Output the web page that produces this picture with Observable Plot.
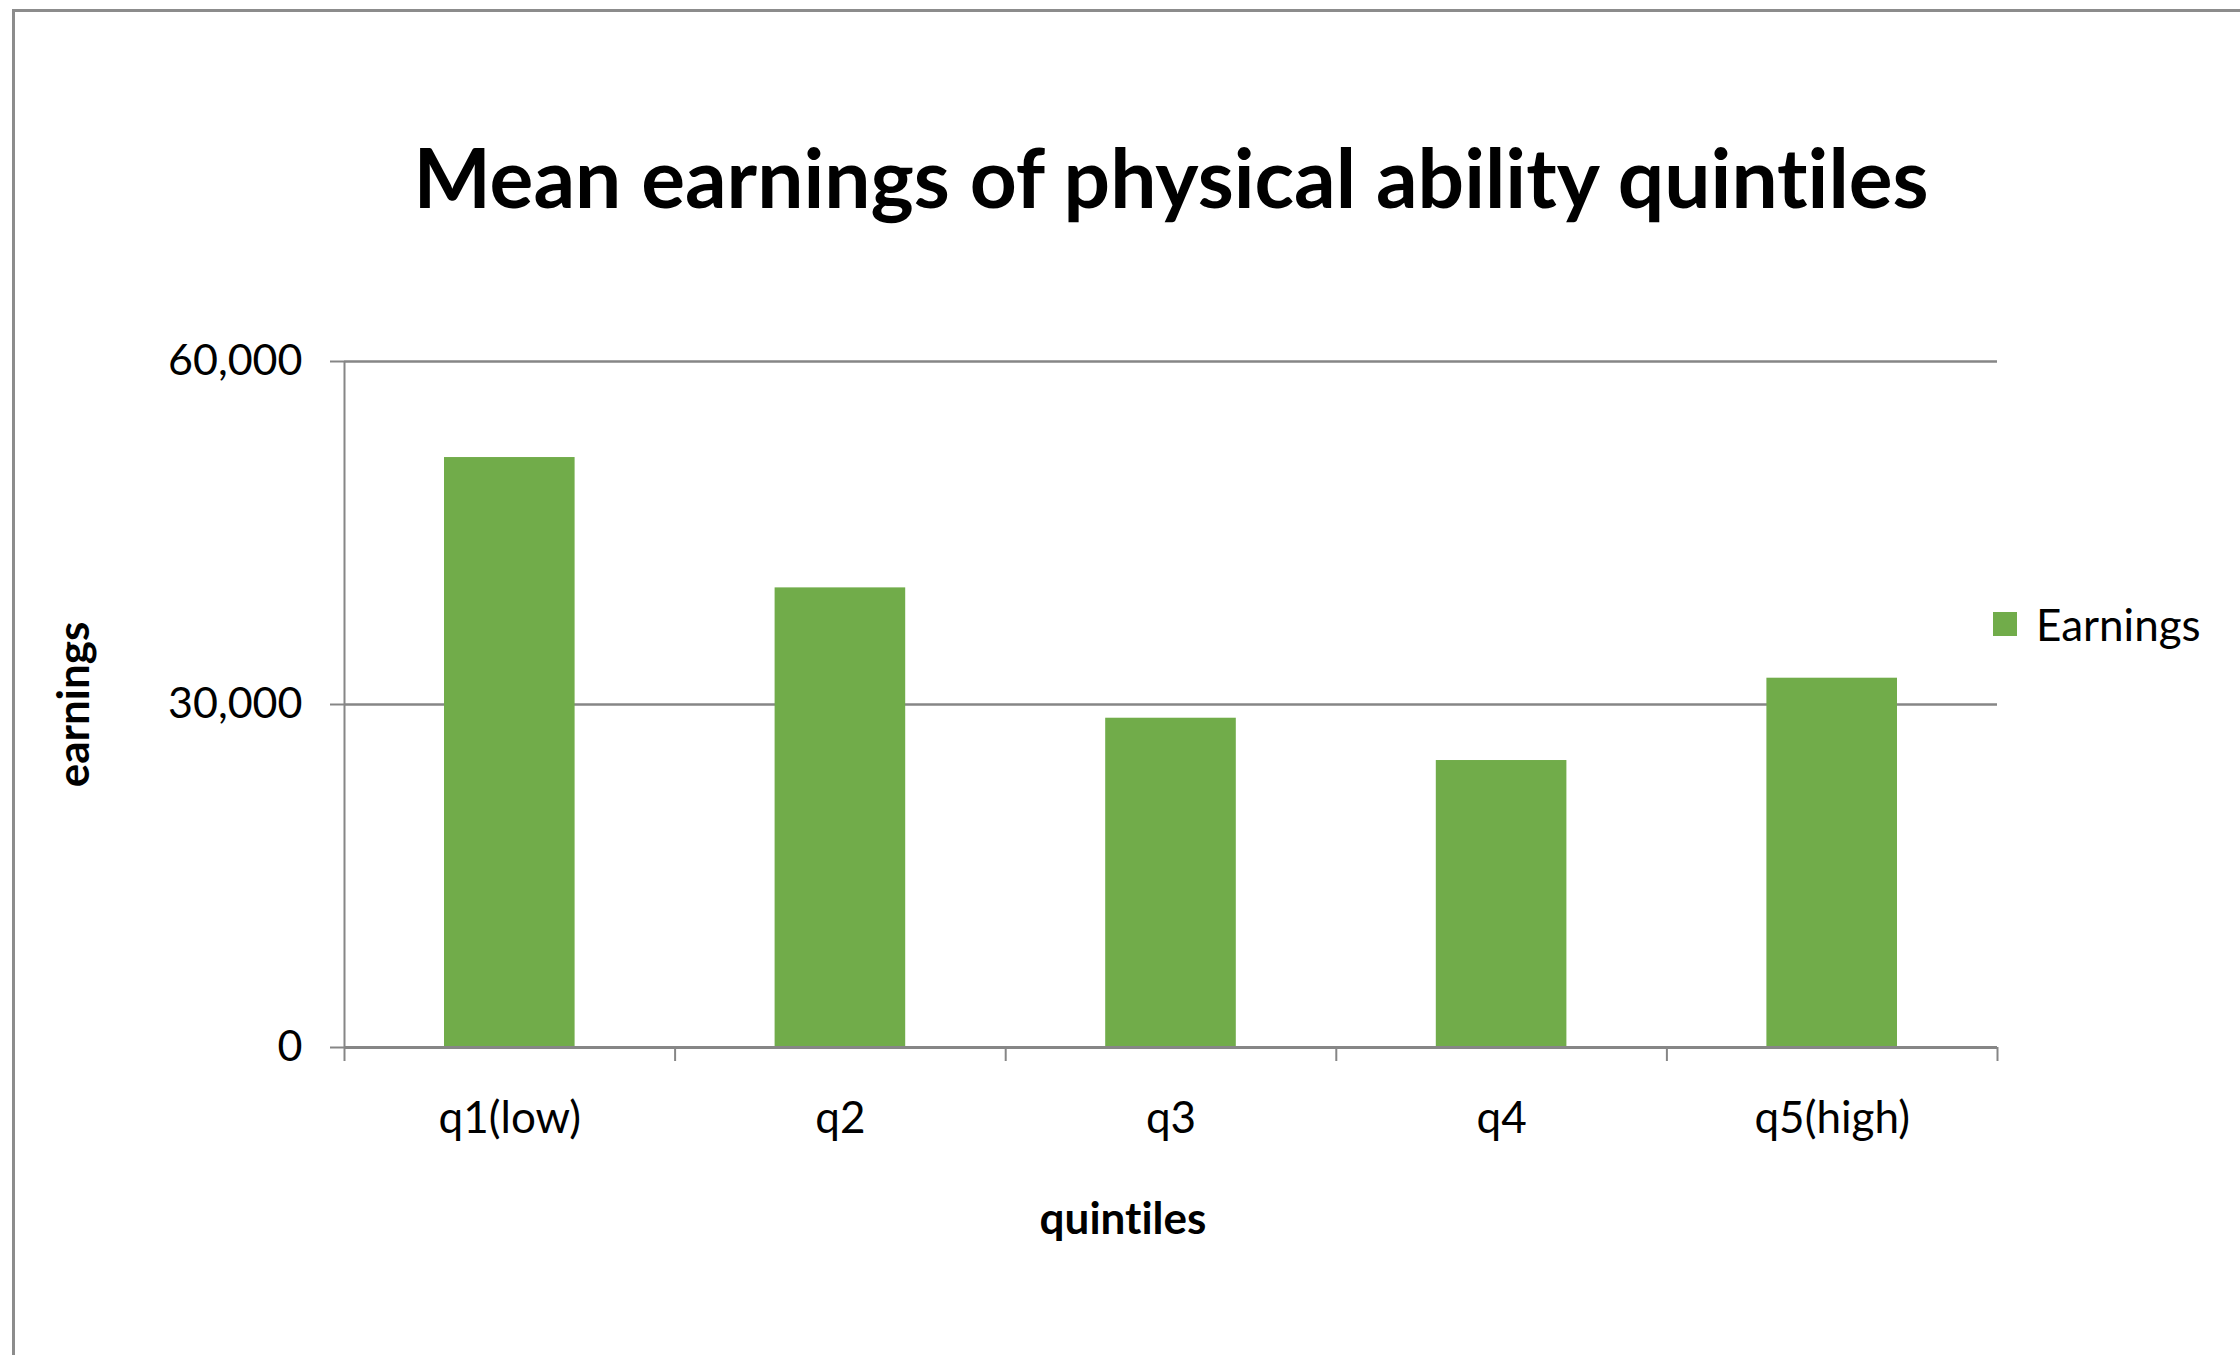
<!DOCTYPE html>
<html>
<head>
<meta charset="utf-8">
<script src="https://cdn.jsdelivr.net/npm/d3@7"></script>
<script src="https://cdn.jsdelivr.net/npm/@observablehq/plot@0.6"></script>
<style>
  html, body { margin: 0; padding: 0; background: #fff; }
  #page { position: relative; width: 2240px; height: 1355px; overflow: hidden; background: #fff; font-family: Lato, "Open Sans", sans-serif; font-variant-ligatures: none; }
  #border { position: absolute; z-index: 5; pointer-events: none; left: 12px; top: 9px; width: 4000px; height: 4000px; border-left: 3px solid #8c8c8c; border-top: 3px solid #8c8c8c; box-sizing: border-box; }
  #title { position: absolute; top: 135px; left: 1171px; transform: translateX(-50%); white-space: nowrap; font-weight: 700; font-size: 82px; line-height: 1; color: #000; }
  #chart { position: absolute; left: 0; top: 250px; }
  #chart svg { font-variant-ligatures: none; }
  #legend { position: absolute; left: 1993px; top: 598px; display: flex; align-items: center; font-size: 44px; color: #000; }
  #legend .sw { width: 24px; height: 24px; margin-right: 19px; }
</style>
</head>
<body>
<div id="page">
  <div id="border"></div>
  <div id="title"></div>
  <div id="chart"></div>
  <div id="legend"></div>
</div>
<script>
const titleText = "Mean earnings of physical ability quintiles";
const categories = ["q1(low)", "q2", "q3", "q4", "q5(high)"];
const earnings = [51600, 40200, 28800, 25100, 32300];
const yTicks = [0, 30000, 60000];
const seriesName = "Earnings";
const xTitle = "quintiles";
const yTitle = "earnings";

const green = "#71AC4A";
const gray = "#868686";

const data = categories.map((c, i) => ({cat: c, i, value: earnings[i]}));

document.getElementById("title").textContent = titleText;

const chart = Plot.plot({
  width: 2240,
  height: 1105,
  marginLeft: 344,
  marginRight: 243,
  marginTop: 111,
  marginBottom: 308,
  x: {domain: [0, categories.length]},
  y: {domain: [yTicks[0], yTicks[yTicks.length - 1]]},
  style: {fontFamily: "Lato, 'Open Sans', sans-serif", fontSize: "44px", color: "#000", background: "#fff"},
  marks: [
    Plot.gridY(yTicks.filter(t => t > 0), {stroke: gray, strokeOpacity: 1, strokeWidth: 2.5}),
    Plot.rectY(data, {x1: "i", x2: d => d.i + 1, y: "value", fill: green, insetLeft: 100, insetRight: 100}),
    Plot.ruleY([0], {stroke: gray, strokeWidth: 3}),
    Plot.ruleX([0], {y1: yTicks[0], y2: yTicks[yTicks.length - 1], stroke: gray, strokeWidth: 2}),
    Plot.axisY(yTicks, {tickSize: 14, tickPadding: 28, fontSize: 43, tickFormat: d3.format(","), stroke: gray, strokeWidth: 2, strokeOpacity: 1, label: null, fill: "#000"}),
    Plot.axisX(d3.range(categories.length + 1), {tickSize: 14, tickFormat: () => "", stroke: gray, strokeWidth: 2, strokeOpacity: 1, label: null}),
    Plot.axisX(categories.map((c, i) => i + 0.5), {tickSize: 0, tickPadding: 54, fontSize: 44, tickFormat: d => categories[Math.floor(d)], label: null, fill: "#000"}),
    Plot.text([xTitle], {frameAnchor: "bottom", dx: -48, dy: 172, lineAnchor: "middle", fontWeight: "bold", fontSize: 44, fill: "#000"}),
    Plot.text([yTitle], {frameAnchor: "left", dx: -270, rotate: -90, lineAnchor: "middle", textAnchor: "middle", fontWeight: "bold", fontSize: 44, fill: "#000"})
  ]
});
document.getElementById("chart").appendChild(chart);

const legend = document.getElementById("legend");
const sw = document.createElement("div");
sw.className = "sw";
sw.style.background = green;
const lab = document.createElement("span");
lab.textContent = seriesName;
legend.appendChild(sw);
legend.appendChild(lab);
</script>
</body>
</html>
